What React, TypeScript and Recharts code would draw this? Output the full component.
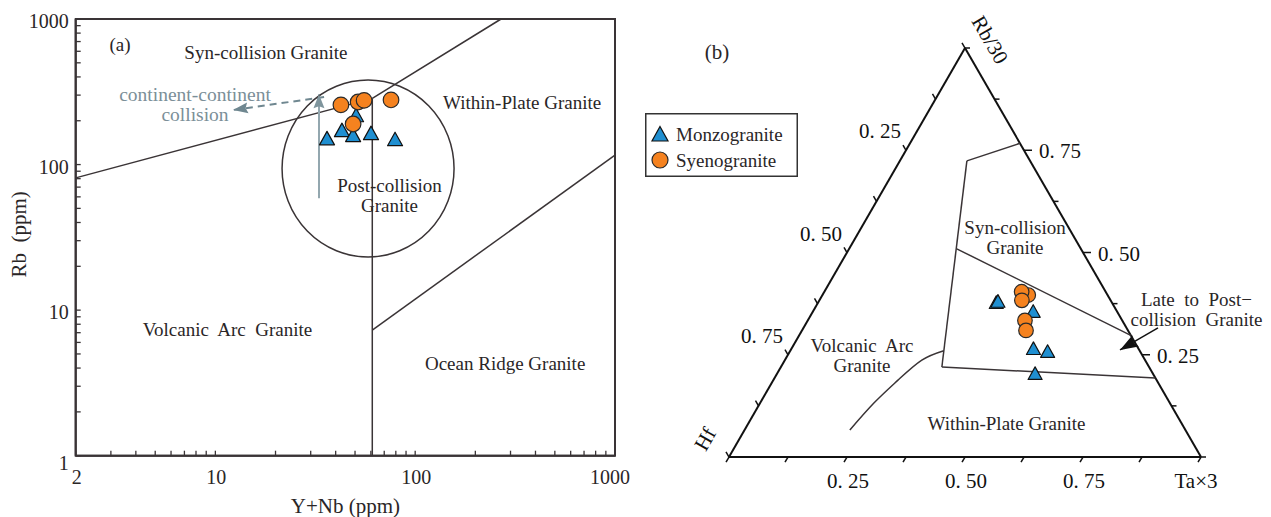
import React from 'react';
import {
  ComposedChart,
  XAxis,
  YAxis,
  Scatter,
  ReferenceLine,
  ReferenceDot,
  ReferenceArea,
  Legend,
  Label,
} from 'recharts';

const FONT = '"Liberation Serif", "Times New Roman", serif';
const INK = '#2a2627';
const LINE = '#3a3436';
const BLUE = '#1f8fd1';
const ORANGE = '#f5821f';
const GREY_TEXT = '#7b8f98';

// ---------------- Panel (a): Rb vs Y+Nb (log-log) ----------------
const xTicksA = [2, 3, 4, 5, 6, 7, 8, 9, 10, 20, 30, 40, 50, 60, 70, 80, 90, 100, 200, 300, 400, 500, 600, 700, 800, 900, 1000];
const xLabelsA = [2, 10, 100, 1000];
const yTicksA = [1, 2, 3, 4, 5, 6, 7, 8, 9, 10, 20, 30, 40, 50, 60, 70, 80, 90, 100, 200, 300, 400, 500, 600, 700, 800, 900, 1000];
const yLabelsA = [1, 10, 100, 1000];

const monzoA = [
  { x: 50.6, y: 219 },
  { x: 36.2, y: 152 },
  { x: 43.0, y: 173 },
  { x: 48.9, y: 160 },
  { x: 60.1, y: 165 },
  { x: 79.3, y: 150 },
];
const syenoA = [
  { x: 42.5, y: 257 },
  { x: 51.8, y: 269 },
  { x: 55.5, y: 276 },
  { x: 75.7, y: 278 },
  { x: 48.9, y: 190 },
];

const boundaryA = [
  [{ x: 2, y: 81 }, { x: 61, y: 285 }],
  [{ x: 61, y: 285 }, { x: 269, y: 1000 }],
  [{ x: 61, y: 285 }, { x: 61, y: 1 }],
  [{ x: 61, y: 7.3 }, { x: 1000, y: 116 }],
];
const postCollisionCentre = { x: 58.1, y: 94 };
const arrowUpA = [{ x: 33, y: 58.7 }, { x: 33, y: 304 }];
const arrowLeftA = [{ x: 35, y: 291 }, { x: 12.25, y: 237 }];

const notesA = [
  { x: 3.33, y: 663, lines: ['(a)'] },
  { x: 17.9, y: 584, lines: ['Syn-collision Granite'] },
  { x: 343, y: 265, lines: ['Within-Plate Granite'] },
  { x: 74.4, y: 60.8, lines: ['Post-collision', 'Granite'] },
  { x: 11.5, y: 7.3, lines: ['Volcanic\u00a0 Arc\u00a0 Granite'] },
  { x: 282, y: 4.33, lines: ['Ocean Ridge Granite'] },
];
const collisionNote = { x: 7.91, y: 261, lines: ['continent-continent', 'collision'] };

// ---------------- Panel (b): Hf – Rb/30 – Ta×3 ternary ----------------
// fractions of Ta×3 (ta) and Rb/30 (rb); Hf = 1 − ta − rb
const monzoB = [
  { ta: 0.377, rb: 0.3785 },
  { ta: 0.379, rb: 0.3816 },
  { ta: 0.466, rb: 0.357 },
  { ta: 0.512, rb: 0.266 },
  { ta: 0.5455, rb: 0.259 },
  { ta: 0.546, rb: 0.205 },
];
const syenoB = [
  { ta: 0.436, rb: 0.396 },
  { ta: 0.418, rb: 0.404 },
  { ta: 0.429, rb: 0.383 },
  { ta: 0.46, rb: 0.334 },
  { ta: 0.4745, rb: 0.3095 },
];
const frameB = [
  [{ ta: 0, rb: 0 }, { ta: 1, rb: 0 }],
  [{ ta: 1, rb: 0 }, { ta: 0, rb: 1 }],
  [{ ta: 0, rb: 1 }, { ta: 0, rb: 0 }],
];
const boundaryB = [
  [{ ta: 0.233, rb: 0.767 }, { ta: 0.142, rb: 0.724 }],
  [{ ta: 0.142, rb: 0.724 }, { ta: 0.341, rb: 0.22 }],
  [{ ta: 0.228, rb: 0.509 }, { ta: 0.7025, rb: 0.2975 }],
  [{ ta: 0.341, rb: 0.22 }, { ta: 0.807, rb: 0.193 }],
];
const vagWpgCurve = [
  { ta: 0.325, rb: 0.26 },
  { ta: 0.29, rb: 0.237 },
  { ta: 0.264, rb: 0.188 },
  { ta: 0.241, rb: 0.132 },
  { ta: 0.223, rb: 0.066 },
];
const tickValuesB = [0, 0.125, 0.25, 0.375, 0.5, 0.625, 0.75, 0.875, 1];
const tickLabelsB = [0.25, 0.5, 0.75];

// anchors in the ternary plot's cartesian units (x: 0..1, y: 0..√3/2)
const notesB = [
  { x: 0.606, y: 0.465, lines: ['Syn-collision', 'Granite'] },
  { x: 0.9905, y: 0.3114, lines: ['Late\u00a0 to\u00a0 Post\u2212', 'collision\u00a0 Granite'] },
  { x: 0.2818, y: 0.214, lines: ['Volcanic\u00a0 Arc', 'Granite'] },
  { x: 0.5879, y: 0.0699, lines: ['Within-Plate Granite'] },
];
const lateArrowB = [{ x: 0.9089, y: 0.2733 }, { x: 0.8284, y: 0.2267 }];
const titleB = { x: -0.0254, y: 0.858, text: '(b)' };
const apexLabelsB = [
  { x: 0.553, y: 0.8835, text: 'Rb/30', rotate: 60 },
  { x: -0.0508, y: 0.0381, text: 'Hf', rotate: -60 },
  { x: 0.9894, y: -0.0508, text: 'Ta\u00d73', rotate: 0 },
];

const H = Math.sqrt(3) / 2;
const toXY = (p: { ta: number; rb: number }) => ({ x: p.ta + p.rb / 2, y: p.rb * H });

// ---------------- shapes ----------------
const triangleShape = (w: number) => (p: any) => {
  const h = w * 0.9;
  return (
    <path
      d={`M${p.cx},${p.cy - h / 2} L${p.cx + w / 2},${p.cy + h / 2} L${p.cx - w / 2},${p.cy + h / 2} Z`}
      fill={BLUE}
      stroke="#111"
      strokeWidth={1.2}
      strokeLinejoin="round"
    />
  );
};
const circleShape = (r: number) => (p: any) => (
  <circle cx={p.cx} cy={p.cy} r={r} fill={ORANGE} stroke="#2a2a2a" strokeWidth={1.2} />
);
const noShape = () => <g />;

const noteShape = (lines: string[], size: number, color: string, lh = 20) => (p: any) => {
  const n = lines.length;
  return (
    <text textAnchor="middle" fontFamily={FONT} fontSize={size} fill={color}>
      {lines.map((l, i) => (
        <tspan key={i} x={p.cx} y={p.cy + (i - (n - 1) / 2) * lh + size * 0.34}>
          {l}
        </tspan>
      ))}
    </text>
  );
};
const rotatedText = (text: string, size: number, rotate: number) => (p: any) => (
  <text
    x={p.cx}
    y={p.cy + size * 0.34}
    textAnchor="middle"
    fontFamily={FONT}
    fontSize={size}
    fill="#111"
    transform={rotate ? `rotate(${rotate} ${p.cx} ${p.cy})` : undefined}
  >
    {text}
  </text>
);
const arrowHead = (angle: number, len: number, wid: number, color: string) => (p: any) => (
  <path
    d={`M0,0 L${-len},${-wid / 2} L${-len * 0.85},0 L${-len},${wid / 2} Z`}
    transform={`translate(${p.cx},${p.cy}) rotate(${angle})`}
    fill={color}
  />
);
const ellipseShape = (p: any) => (
  <ellipse cx={p.cx} cy={p.cy} rx={86} ry={88.5} fill="none" stroke={LINE} strokeWidth={1.5} />
);
const tickShape = (dx: number, dy: number, len: number) => (p: any) => (
  <line x1={p.cx} y1={p.cy} x2={p.cx + dx * len} y2={p.cy + dy * len} stroke="#111" strokeWidth={1.5} />
);
const tickLabelShape = (text: string, dx: number, dy: number, anchor: string) => (p: any) => (
  <text x={p.cx + dx} y={p.cy + dy} textAnchor={anchor as any} fontFamily={FONT} fontSize={21} fill="#111">
    {text}
  </text>
);
const fmtB = (v: number) => `0.\u00a0${Math.round(v * 100)}`;

// ---------------- axis ticks for panel (a) ----------------
const XTickA = (props: any) => {
  const { x, y, payload } = props;
  const v = payload.value;
  return (
    <g>
      <line x1={x} y1={y} x2={x} y2={y - 5} stroke={LINE} strokeWidth={1.3} />
      {xLabelsA.includes(v) && (
        <text x={x + (v === 1000 ? -5 : 1)} y={y + 28} textAnchor="middle" fontFamily={FONT} fontSize={20} fill={INK}>
          {v}
        </text>
      )}
    </g>
  );
};
const YTickA = (props: any) => {
  const { x, y, payload } = props;
  const v = payload.value;
  return (
    <g>
      <line x1={x} y1={y} x2={x + 5} y2={y} stroke={LINE} strokeWidth={1.3} />
      {yLabelsA.includes(v) && (
        <text x={x - 7} y={y + (v === 1 ? 14 : 9)} textAnchor="end" fontFamily={FONT} fontSize={20} fill={INK}>
          {v}
        </text>
      )}
    </g>
  );
};
const XTitleA = (props: any) => {
  const vb = props.viewBox || {};
  return (
    <text x={vb.x + vb.width / 2} y={vb.y + 57} textAnchor="middle" fontFamily={FONT} fontSize={21} fill={INK}>
      Y+Nb (ppm)
    </text>
  );
};
const YTitleA = (props: any) => {
  const vb = props.viewBox || {};
  const cx = 19;
  const cy = vb.y + vb.height / 2 - 3;
  return (
    <text x={cx} y={cy} textAnchor="middle" fontFamily={FONT} fontSize={21} fill={INK} transform={`rotate(-90 ${cx} ${cy})`} dy={7}>
      {'Rb\u00a0 (ppm)'}
    </text>
  );
};

// ---------------- legend ----------------
const LegendBox = (props: any) => {
  const items = (props.payload || []).filter((e: any) => e.type !== 'none');
  return (
    <svg width={153} height={64} style={{ display: 'block' }}>
      <rect x={0.75} y={0.75} width={151.5} height={62.5} fill="#fff" stroke="#333" strokeWidth={1.5} />
      {items.map((e: any, i: number) => {
        const cy = 21 + i * 26;
        return (
          <g key={e.value}>
            {e.type === 'triangle' ? (
              <path d={`M15,${cy - 7.5} L23,${cy + 7} L7,${cy + 7} Z`} fill={BLUE} stroke="#111" strokeWidth={1.2} />
            ) : (
              <circle cx={15} cy={cy} r={8} fill={ORANGE} stroke="#2a2a2a" strokeWidth={1.2} />
            )}
            <text x={31} y={cy + 6.5} fontFamily={FONT} fontSize={19} fill={INK}>
              {e.value}
            </text>
          </g>
        );
      })}
    </svg>
  );
};

export default function App() {
  return (
    <div style={{ position: 'absolute', left: 0, top: 0, width: 1271, height: 517, background: '#fff', overflow: 'hidden' }}>
      {/* Panel (a) */}
      <div style={{ position: 'absolute', left: 0, top: 0 }}>
        <ComposedChart width={640} height={517} margin={{ top: 19, right: 25, bottom: 31.3, left: 15.7 }}>
          <XAxis
            type="number"
            dataKey="x"
            scale="log"
            domain={[2, 1000]}
            allowDataOverflow
            ticks={xTicksA}
            interval={0}
            tickSize={0}
            tickMargin={0}
            tickLine={false}
            tick={XTickA}
            height={30}
            axisLine={{ stroke: LINE, strokeWidth: 2 }}
          >
            <Label content={XTitleA} />
          </XAxis>
          <YAxis
            type="number"
            dataKey="y"
            scale="log"
            domain={[1, 1000]}
            allowDataOverflow
            ticks={yTicksA}
            interval={0}
            tickSize={0}
            tickMargin={0}
            tickLine={false}
            tick={YTickA}
            width={60}
            axisLine={{ stroke: LINE, strokeWidth: 2 }}
          >
            <Label content={YTitleA} />
          </YAxis>
          <ReferenceArea x1={2} x2={1000} y1={1} y2={1000} fill="none" fillOpacity={0} stroke={LINE} strokeWidth={2} ifOverflow="visible" />
          {boundaryA.map((seg, i) => (
            <ReferenceLine key={`ba${i}`} segment={seg} stroke={LINE} strokeWidth={1.5} ifOverflow="visible" />
          ))}
          <ReferenceDot x={postCollisionCentre.x} y={postCollisionCentre.y} r={1} shape={ellipseShape} ifOverflow="visible" />
          <ReferenceLine segment={arrowUpA} stroke="#93a7af" strokeWidth={2} ifOverflow="visible" />
          <ReferenceDot x={arrowUpA[1].x} y={arrowUpA[1].y} r={1} shape={arrowHead(-90, 14, 11, '#7f959d')} ifOverflow="visible" />
          <ReferenceLine segment={arrowLeftA} stroke="#6f8790" strokeWidth={2} strokeDasharray="7 5" ifOverflow="visible" />
          <ReferenceDot x={arrowLeftA[1].x} y={arrowLeftA[1].y} r={1} shape={arrowHead(172, 15, 11, '#6f8790')} ifOverflow="visible" />
          {notesA.map((n, i) => (
            <ReferenceDot key={`na${i}`} x={n.x} y={n.y} r={1} shape={noteShape(n.lines, 19, INK)} ifOverflow="visible" />
          ))}
          <ReferenceDot x={collisionNote.x} y={collisionNote.y} r={1} shape={noteShape(collisionNote.lines, 19.5, GREY_TEXT)} ifOverflow="visible" />
          <Scatter name="Monzogranite" data={monzoA} shape={triangleShape(15)} isAnimationActive={false} />
          <Scatter name="Syenogranite" data={syenoA} shape={circleShape(7.8)} isAnimationActive={false} />
        </ComposedChart>
      </div>

      {/* Panel (b) */}
      <div style={{ position: 'absolute', left: 640, top: 0 }}>
        <ComposedChart width={631} height={517} margin={{ top: 48, right: 70, bottom: 60, left: 89 }}>
          <XAxis type="number" dataKey="x" domain={[0, 1]} allowDataOverflow hide />
          <YAxis type="number" dataKey="y" domain={[0, H]} allowDataOverflow hide />
          {frameB.map((seg, i) => (
            <ReferenceLine key={`fb${i}`} segment={seg.map(toXY)} stroke="#111" strokeWidth={2} ifOverflow="visible" />
          ))}
          {tickValuesB.map((t) => (
            <ReferenceDot key={`tb${t}`} {...toXY({ ta: t, rb: 0 })} r={1} shape={tickShape(-0.5, H, 6)} ifOverflow="visible" />
          ))}
          {tickValuesB.map((t) => (
            <ReferenceDot key={`tr${t}`} {...toXY({ ta: 1 - t, rb: t })} r={1} shape={tickShape(1, 0, tickLabelsB.includes(t) ? 8 : 5)} ifOverflow="visible" />
          ))}
          {tickValuesB.map((t) => (
            <ReferenceDot key={`tl${t}`} {...toXY({ ta: 0, rb: 1 - t })} r={1} shape={tickShape(-0.5, -H, 6)} ifOverflow="visible" />
          ))}
          {tickLabelsB.map((t) => (
            <ReferenceDot key={`lb${t}`} {...toXY({ ta: t, rb: 0 })} r={1} shape={tickLabelShape(fmtB(t), 1, 31, 'middle')} ifOverflow="visible" />
          ))}
          {tickLabelsB.map((t) => (
            <ReferenceDot key={`lr${t}`} {...toXY({ ta: 1 - t, rb: t })} r={1} shape={tickLabelShape(fmtB(t), 15, 8, 'start')} ifOverflow="visible" />
          ))}
          {tickLabelsB.map((t) => (
            <ReferenceDot key={`ll${t}`} {...toXY({ ta: 0, rb: 1 - t })} r={1} shape={tickLabelShape(fmtB(t), -26, -12, 'middle')} ifOverflow="visible" />
          ))}
          {boundaryB.map((seg, i) => (
            <ReferenceLine key={`bb${i}`} segment={seg.map(toXY)} stroke={LINE} strokeWidth={1.5} ifOverflow="visible" />
          ))}
          <Scatter
            name="VAG-WPG"
            data={vagWpgCurve.map(toXY)}
            shape={noShape}
            line={{ stroke: LINE, strokeWidth: 1.5 }}
            lineType="joint"
            lineJointType="natural"
            legendType="none"
            isAnimationActive={false}
          />
          {notesB.map((n, i) => (
            <ReferenceDot key={`nb${i}`} x={n.x} y={n.y} r={1} shape={noteShape(n.lines, 19, INK)} ifOverflow="visible" />
          ))}
          <ReferenceLine segment={lateArrowB} stroke="#111" strokeWidth={1.5} ifOverflow="visible" />
          <ReferenceDot x={lateArrowB[1].x} y={lateArrowB[1].y} r={1} shape={arrowHead(150, 18, 13, '#111')} ifOverflow="visible" />
          <ReferenceDot x={titleB.x} y={titleB.y} r={1} shape={noteShape([titleB.text], 21, INK)} ifOverflow="visible" />
          {apexLabelsB.map((a) => (
            <ReferenceDot key={a.text} x={a.x} y={a.y} r={1} shape={rotatedText(a.text, 21, a.rotate)} ifOverflow="visible" />
          ))}
          <Scatter name="Monzogranite" data={monzoB.map(toXY)} shape={triangleShape(14)} legendType="triangle" isAnimationActive={false} />
          <Scatter name="Syenogranite" data={syenoB.map(toXY)} shape={circleShape(7.3)} legendType="circle" isAnimationActive={false} />
          <Legend
            content={LegendBox}
            layout="vertical"
            align="center"
            verticalAlign="middle"
            wrapperStyle={{ left: 5, top: 113, width: 153, height: 64 }}
          />
        </ComposedChart>
      </div>
    </div>
  );
}
